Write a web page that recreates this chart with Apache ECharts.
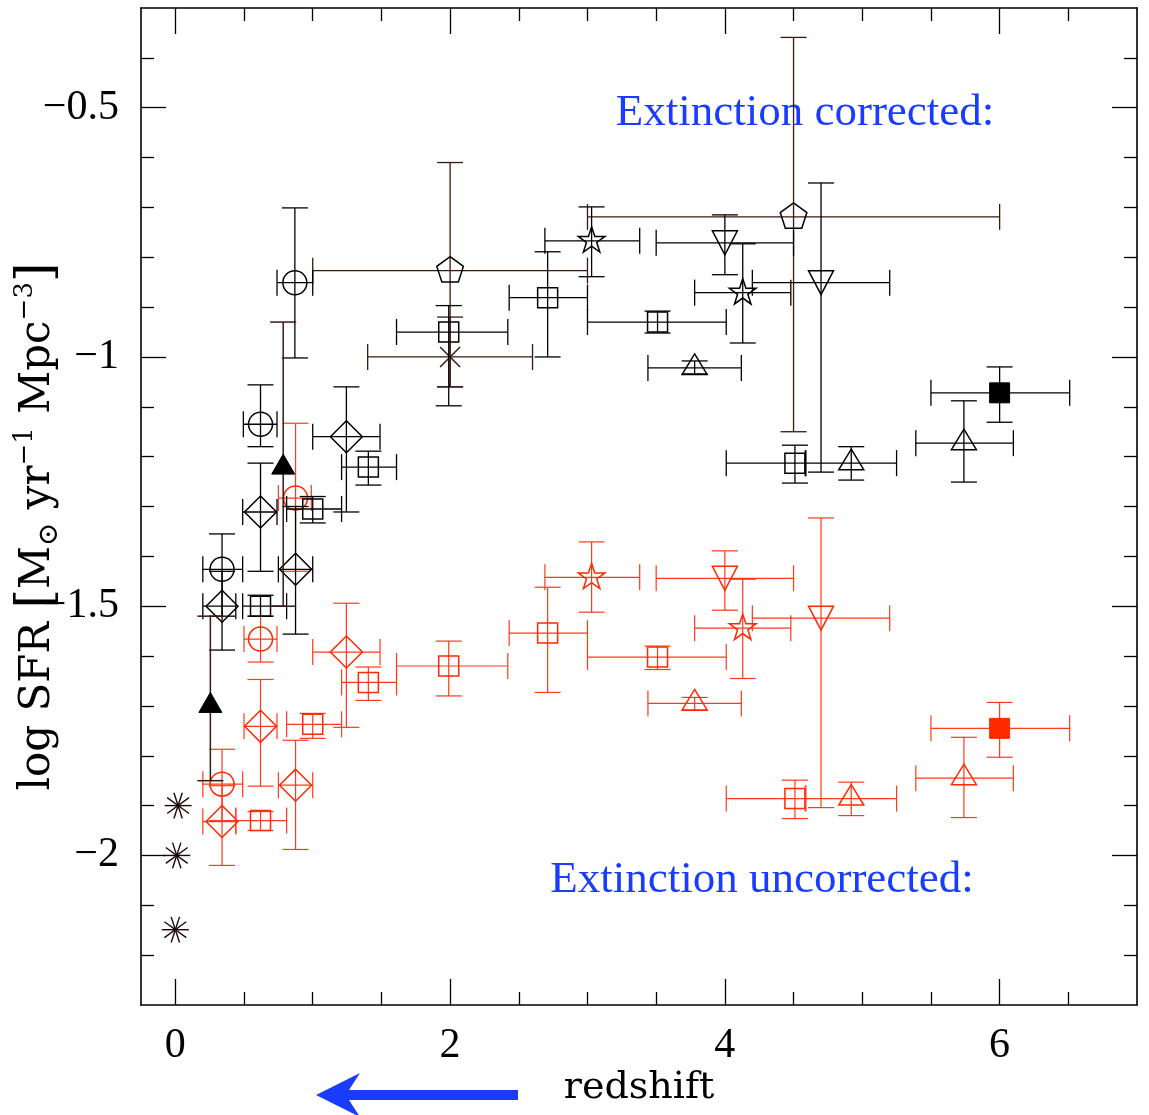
<!DOCTYPE html>
<html><head><meta charset="utf-8">
<script src="https://cdn.jsdelivr.net/npm/echarts@6/dist/echarts.min.js"></script>
<style>html,body{margin:0;padding:0;background:#fff}#c{width:1149px;height:1115px}</style>
</head><body><div id="c"></div>
<script>
// Each row: [redshift, logSFR, zLow, zHigh, sfrLow, sfrHigh]
const corrCircles = [
  [0.87, -0.851, 0.74, 1.00, -1.002, -0.701],
  [0.62, -1.135, 0.495, 0.74, -1.180, -1.056],
  [0.34, -1.426, 0.20, 0.49, -1.520, -1.355]
];
const corrDiamonds = [
  [1.245, -1.160, 1.00, 1.49, -1.311, -1.060],
  [0.62, -1.311, 0.49, 0.74, -1.430, -1.213],
  [0.875, -1.426, 0.75, 1.00, -1.556, -1.300],
  [0.34, -1.500, 0.20, 0.44, -1.588, -1.430]
];
const corrSquares = [
  [1.00, -1.305, 0.81, 1.21, -1.333, -1.280],
  [1.405, -1.221, 1.21, 1.61, -1.257, -1.189],
  [0.62, -1.500, 0.49, 0.81, -1.520, -1.478],
  [1.99, -0.950, 1.61, 2.42, -1.098, -0.897],
  [2.71, -0.881, 2.43, 3.00, -1.000, -0.789],
  [3.51, -0.930, 3.00, 4.01, -0.952, -0.908],
  [4.51, -1.213, 4.01, 4.59, -1.253, -1.177]
];
const corrPentagons = [
  [2.00, -0.827, 1.00, 3.00, -1.060, -0.610],
  [4.50, -0.719, 3.00, 6.00, -1.150, -0.359]
];
const corrStars = [
  [3.03, -0.767, 2.69, 3.38, -0.839, -0.699],
  [4.13, -0.871, 3.78, 4.48, -0.972, -0.773]
];
const corrInvTriangles = [
  [4.00, -0.771, 3.50, 4.50, -0.835, -0.715],
  [4.70, -0.851, 4.20, 5.20, -1.231, -0.651]
];
const corrTriangles = [
  [3.78, -1.022, 3.44, 4.12, -1.034, -1.008],
  [4.92, -1.213, 4.585, 5.25, -1.247, -1.180],
  [5.74, -1.173, 5.39, 6.10, -1.251, -1.088]
];
const corrFilledSquare = [[6.00, -1.072, 5.50, 6.51, -1.131, -1.020]];
const corrFilledTriangles = [
  [0.785, -1.217, null, null, -1.500, -0.930],
  [0.255, -1.695, null, null, -1.850, -1.520]
];
const corrCross = [[2.00, -1.000, 1.40, 2.60, -1.060, -0.920]];
const localAsterisks = [[0.02, -1.900], [0.01, -2.000], [0.00, -2.149]];

const uncCircles = [
  [0.875, -1.283, 0.75, 0.99, -1.430, -1.133],
  [0.62, -1.566, 0.50, 0.74, -1.612, -1.520],
  [0.34, -1.857, 0.20, 0.49, -1.930, -1.787]
];
const uncDiamonds = [
  [1.245, -1.592, 1.00, 1.49, -1.743, -1.494],
  [0.62, -1.741, 0.50, 0.74, -1.861, -1.647],
  [0.875, -1.859, 0.75, 1.00, -1.988, -1.769],
  [0.34, -1.932, 0.20, 0.44, -2.020, -1.860]
];
const uncSquares = [
  [1.00, -1.737, 0.81, 1.21, -1.765, -1.715],
  [1.405, -1.653, 1.21, 1.61, -1.689, -1.622],
  [0.62, -1.930, 0.44, 0.81, -1.950, -1.912],
  [1.99, -1.620, 1.61, 2.42, -1.680, -1.570],
  [2.71, -1.554, 2.43, 3.00, -1.673, -1.462],
  [3.51, -1.602, 3.00, 4.01, -1.627, -1.580],
  [4.51, -1.886, 4.01, 4.59, -1.926, -1.849]
];
const uncStars = [
  [3.03, -1.442, 2.69, 3.38, -1.512, -1.371],
  [4.13, -1.544, 3.78, 4.48, -1.645, -1.446]
];
const uncInvTriangles = [
  [4.00, -1.444, 3.50, 4.50, -1.508, -1.389],
  [4.70, -1.524, 4.20, 5.20, -1.904, -1.323]
];
const uncTriangles = [
  [3.78, -1.695, 3.44, 4.12, -1.709, -1.683],
  [4.92, -1.886, 4.585, 5.25, -1.920, -1.853],
  [5.74, -1.845, 5.39, 6.10, -1.924, -1.763]
];
const uncFilledSquare = [[6.00, -1.745, 5.50, 6.51, -1.803, -1.693]];

const xMajorTicks = [0, 2, 4, 6];
const xMinorTicks = [0.5, 1, 1.5, 2.5, 3, 3.5, 4.5, 5, 5.5, 6.5];
const yMajorTicks = [-2, -1.5, -1, -0.5];
const yMinorTicks = [-2.2, -2.1, -1.9, -1.8, -1.7, -1.6, -1.4, -1.3, -1.2, -1.1, -0.9, -0.8, -0.7, -0.6, -0.4];

const BLACK = '#000000', RED = '#ff2a00', REDBAR = '#ff3a1a', BROWN = '#3a1810', BLUE = '#1a3cff';
const TICKFONT = 'Liberation Serif', TITLEFONT = 'DejaVu Serif';

function ok(v) { return typeof v === 'number' && isFinite(v); }
function ln(x1, y1, x2, y2, st) { return {type: 'line', shape: {x1, y1, x2, y2}, style: st}; }

function marker(kind, cx, cy, color, lw) {
  const st = {fill: 'none', stroke: color, lineWidth: lw};
  const P = (pts) => ({type: 'polygon', shape: {points: pts}, style: st});
  switch (kind) {
    case 'circle': return [{type: 'circle', shape: {cx, cy, r: 12}, style: st}];
    case 'diamond': return [P([[cx, cy - 16], [cx + 16, cy], [cx, cy + 16], [cx - 16, cy]])];
    case 'square': return [{type: 'rect', shape: {x: cx - 10, y: cy - 10, width: 20, height: 20}, style: st}];
    case 'fsquare': return [{type: 'rect', shape: {x: cx - 10, y: cy - 10, width: 20, height: 20}, style: {fill: color, stroke: color, lineWidth: 1}}];
    case 'pentagon': {
      const pts = [];
      for (let k = 0; k < 5; k++) { const a = -Math.PI / 2 + k * 2 * Math.PI / 5; pts.push([cx + 14 * Math.cos(a), cy + 14 * Math.sin(a)]); }
      return [P(pts)];
    }
    case 'star': {
      const pts = [];
      for (let k = 0; k < 10; k++) { const a = -Math.PI / 2 + k * Math.PI / 5; const r = k % 2 ? 5.4 : 14; pts.push([cx + r * Math.cos(a), cy + r * Math.sin(a)]); }
      return [P(pts)];
    }
    case 'tri': return [P([[cx, cy - 14], [cx + 12.5, cy + 6.5], [cx - 12.5, cy + 6.5]])];
    case 'itri': return [P([[cx - 12.5, cy - 12], [cx + 12.5, cy - 12], [cx, cy + 12]])];
    case 'ftri': return [{type: 'polygon', shape: {points: [[cx, cy - 11], [cx + 11.5, cy + 9], [cx - 11.5, cy + 9]]}, style: {fill: color, stroke: color, lineWidth: 1}}];
    case 'cross': return [ln(cx - 10, cy - 10, cx + 10, cy + 10, st), ln(cx - 10, cy + 10, cx + 10, cy - 10, st)];
    case 'asterisk': {
      const out = [];
      [0, 36, 72, 108, 144].forEach(function (d) {
        const a = d * Math.PI / 180, r = 13.5;
        out.push(ln(cx - r * Math.cos(a), cy - r * Math.sin(a), cx + r * Math.cos(a), cy + r * Math.sin(a), st));
      });
      return out;
    }
  }
  return [];
}

function errSeries(name, data, kind, markColor, barColor, lw) {
  return {
    name: name, type: 'custom', xAxisIndex: 0, yAxisIndex: 0, clip: false, silent: true,
    data: data, encode: {x: 0, y: 1},
    renderItem: function (params, api) {
      const x = api.value(0), y = api.value(1);
      const c = api.coord([x, y]);
      const kids = [];
      const bs = {stroke: barColor, lineWidth: lw};
      const CAP = 13;
      const xl = api.value(2), xh = api.value(3), yl = api.value(4), yh = api.value(5);
      if (ok(xl) && ok(xh)) {
        const a = api.coord([xl, y]), b = api.coord([xh, y]);
        kids.push(ln(a[0], a[1], b[0], b[1], bs));
        kids.push(ln(a[0], a[1] - CAP, a[0], a[1] + CAP, bs));
        kids.push(ln(b[0], b[1] - CAP, b[0], b[1] + CAP, bs));
      }
      if (ok(yl) && ok(yh)) {
        const a = api.coord([x, yl]), b = api.coord([x, yh]);
        kids.push(ln(a[0], a[1], b[0], b[1], bs));
        kids.push(ln(a[0] - CAP, a[1], a[0] + CAP, a[1], bs));
        kids.push(ln(b[0] - CAP, b[1], b[0] + CAP, b[1], bs));
      }
      marker(kind, c[0], c[1], markColor, kind === 'asterisk' ? 1.4 : 1.5).forEach(function (m) { kids.push(m); });
      return {type: 'group', children: kids};
    }
  };
}

function xAx(pos, ticks, len, labels, line) {
  return {
    type: 'value', gridIndex: 0, position: pos, offset: 0, min: -0.25, max: 7,
    name: labels ? 'redshift' : '', nameLocation: 'middle', nameGap: 64, nameMoveOverlap: false,
    nameTextStyle: {fontFamily: TITLEFONT, fontSize: 38, color: '#000'},
    axisLine: {show: line, onZero: false, lineStyle: {color: '#000', width: 1.6}},
    axisTick: {show: true, inside: true, length: len, customValues: ticks, lineStyle: {color: '#000', width: 1.3}},
    axisLabel: {show: labels, customValues: ticks, margin: 20, color: '#000', fontFamily: TICKFONT, fontSize: 42,
      formatter: function (v) { return String(v); }},
    splitLine: {show: false}, minorTick: {show: false}
  };
}
function yAx(pos, ticks, len, labels, line) {
  return {
    type: 'value', gridIndex: 0, position: pos, offset: 0, min: -2.3, max: -0.3,
    name: labels ? 'log SFR {br|[}M{sub|⊙} yr{sup|−1} Mpc{sup|−3}{br|]}' : '',
    nameLocation: 'middle', nameRotate: 90, nameGap: 77, nameMoveOverlap: false,
    nameTextStyle: {fontFamily: TITLEFONT, fontSize: 42, color: '#000', lineHeight: 52, padding: [0, 40, 0, 0],
      rich: {
        br: {fontFamily: TITLEFONT, fontSize: 50, color: '#000'},
        sub: {fontFamily: TITLEFONT, fontSize: 28, color: '#000', verticalAlign: 'bottom'},
        sup: {fontFamily: TITLEFONT, fontSize: 26, color: '#000', verticalAlign: 'top'}
      }},
    axisLine: {show: line, onZero: false, lineStyle: {color: '#000', width: 1.6}},
    axisTick: {show: true, inside: true, length: len, customValues: ticks, lineStyle: {color: '#000', width: 1.3}},
    axisLabel: {show: labels, customValues: ticks, margin: 22, color: '#000', fontFamily: TICKFONT, fontSize: 42,
      formatter: function (v) { return (v < 0 ? '\u2212' : '') + Math.abs(v); }},
    splitLine: {show: false}, minorTick: {show: false}
  };
}

const option = {
  animation: false,
  backgroundColor: '#fff',
  grid: {left: 141, right: 12, top: 8, bottom: 110, containLabel: false, outerBoundsMode: 'none'},
  xAxis: [
    xAx('bottom', xMajorTicks, 26, true, true),
    xAx('bottom', xMinorTicks, 13, false, false),
    xAx('top', xMajorTicks, 26, false, true),
    xAx('top', xMinorTicks, 13, false, false)
  ],
  yAxis: [
    yAx('left', yMajorTicks, 25, true, true),
    yAx('left', yMinorTicks, 13, false, false),
    yAx('right', yMajorTicks, 25, false, true),
    yAx('right', yMinorTicks, 13, false, false)
  ],
  series: [
    errSeries('uncorrected circles', uncCircles, 'circle', RED, REDBAR, 1.2),
    errSeries('uncorrected diamonds', uncDiamonds, 'diamond', RED, REDBAR, 1.2),
    errSeries('uncorrected squares', uncSquares, 'square', RED, REDBAR, 1.2),
    errSeries('uncorrected stars', uncStars, 'star', RED, REDBAR, 1.2),
    errSeries('uncorrected inverted triangles', uncInvTriangles, 'itri', RED, REDBAR, 1.2),
    errSeries('uncorrected triangles', uncTriangles, 'tri', RED, REDBAR, 1.2),
    errSeries('uncorrected filled square', uncFilledSquare, 'fsquare', RED, REDBAR, 1.2),
    errSeries('corrected pentagons', corrPentagons, 'pentagon', BLACK, BROWN, 1.3),
    errSeries('corrected cross', corrCross, 'cross', BROWN, BROWN, 1.3),
    errSeries('corrected circles', corrCircles, 'circle', BLACK, BLACK, 1.3),
    errSeries('corrected diamonds', corrDiamonds, 'diamond', BLACK, BLACK, 1.3),
    errSeries('corrected squares', corrSquares, 'square', BLACK, BLACK, 1.3),
    errSeries('corrected stars', corrStars, 'star', BLACK, BLACK, 1.3),
    errSeries('corrected inverted triangles', corrInvTriangles, 'itri', BLACK, BLACK, 1.3),
    errSeries('corrected triangles', corrTriangles, 'tri', BLACK, BLACK, 1.3),
    errSeries('corrected filled square', corrFilledSquare, 'fsquare', BLACK, BLACK, 1.3),
    errSeries('corrected lower limits', corrFilledTriangles, 'ftri', BLACK, BROWN, 1.5),
    errSeries('local', localAsterisks, 'asterisk', '#1a0a08', BLACK, 1.3)
  ],
  graphic: [
    {type: 'text', x: 805, y: 113, silent: true,
      style: {text: 'Extinction corrected:', font: '45px "Liberation Serif"', fill: BLUE,
        textAlign: 'center', textVerticalAlign: 'middle', align: 'center', verticalAlign: 'middle'}},
    {type: 'text', x: 762, y: 880, silent: true,
      style: {text: 'Extinction uncorrected:', font: '45px "Liberation Serif"', fill: BLUE,
        textAlign: 'center', textVerticalAlign: 'middle', align: 'center', verticalAlign: 'middle'}},
    {type: 'polygon', silent: true,
      shape: {points: [[316, 1095], [360, 1073], [349, 1090], [518, 1090], [518, 1100], [349, 1100], [360, 1117]]},
      style: {fill: BLUE}}
  ]
};

const chart = echarts.init(document.getElementById('c'), null, {renderer: 'canvas'});
chart.setOption(option);
</script></body></html>
